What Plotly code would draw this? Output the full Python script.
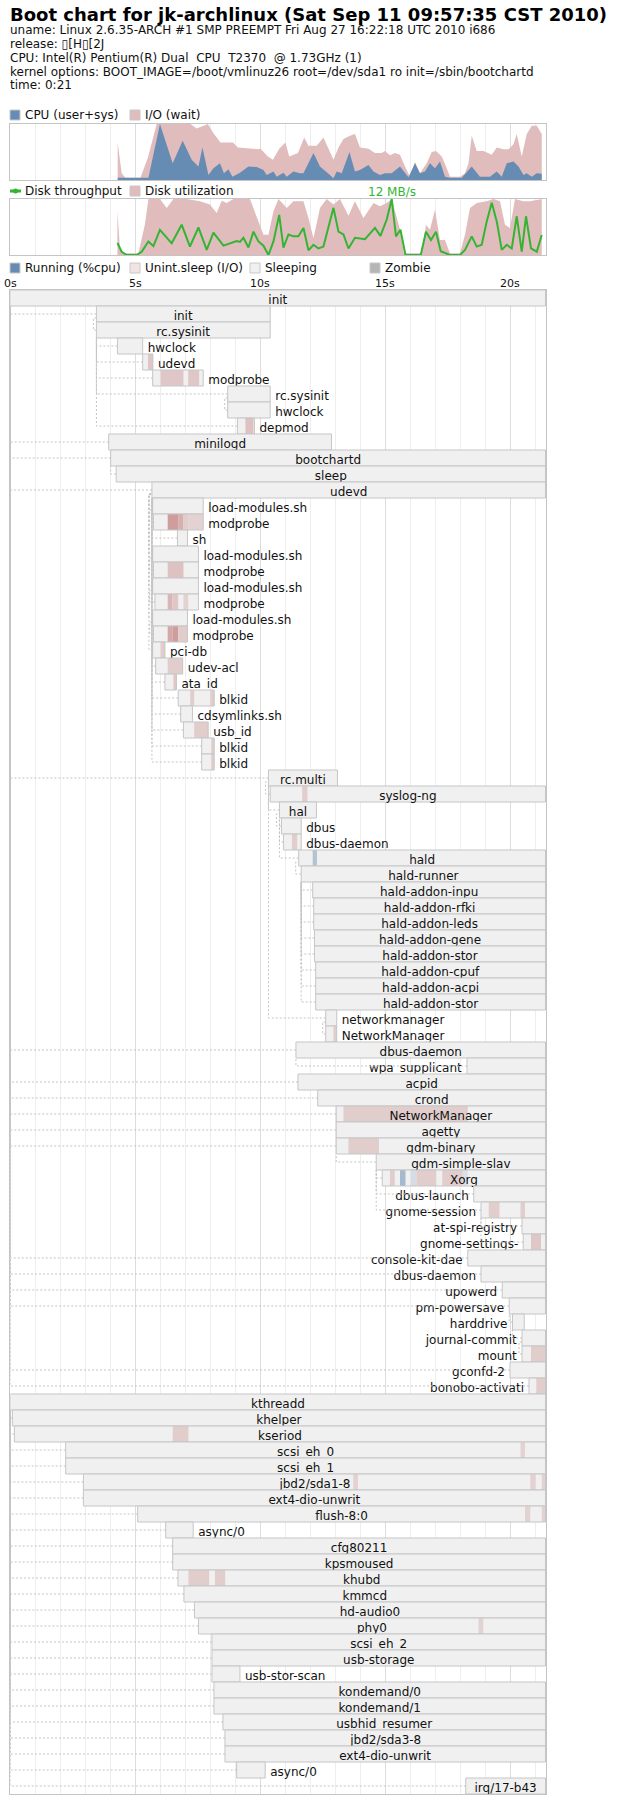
import plotly.graph_objects as go

# ---------------------------------------------------------------- data
title_text = "Boot chart for jk-archlinux (Sat Sep 11 09:57:35 CST 2010)"
header_lines = [
    "uname: Linux 2.6.35-ARCH #1 SMP PREEMPT Fri Aug 27 16:22:18 UTC 2010 i686",
    "release: \u25af[H\u25af[2J",
    "CPU: Intel(R) Pentium(R) Dual\u00a0 CPU\u00a0 T2370\u00a0 @ 1.73GHz (1)",
    "kernel options: BOOT_IMAGE=/boot/vmlinuz26 root=/dev/sda1 ro init=/sbin/bootchartd",
    "time: 0:21",
]

tick_seconds = [0, 5, 10, 15, 20]
tick_labels = ["0s", "5s", "10s", "15s", "20s"]
t_end = 21.42
last_sample = 21.4

cpu_t = [4.29, 5.20, 5.52, 5.98, 6.49, 6.89, 7.25, 7.52, 7.68, 7.92, 8.12, 8.38, 8.54, 8.72, 8.88,
         9.18, 9.52, 9.85, 10.12, 10.25, 10.52, 10.65, 10.92, 11.05, 11.32, 11.58, 11.72, 12.12, 12.38,
         12.78, 12.92, 13.05, 13.25, 13.56, 13.78, 13.98, 14.32, 14.52, 14.78, 14.98, 15.25, 15.58,
         15.92, 16.18, 16.38, 16.58, 16.78, 16.98, 17.18, 17.38, 17.58, 18.05, 18.45, 18.78, 19.18,
         19.45, 19.65, 19.85, 20.12, 20.32, 20.52, 20.65, 20.85, 21.05, 21.25]
cpu_v = [0.04, 0.04, 0.04, 1.00, 0.30, 0.70, 0.36, 0.24, 0.58, 0.09, 0.21, 0.30, 0.12, 0.19, 0.06,
         0.13, 0.24, 0.23, 0.18, 0.09, 0.15, 0.06, 0.13, 0.06, 0.15, 0.12, 0.12, 0.48, 0.24,
         0.09, 0.03, 0.15, 0.12, 0.50, 0.15, 0.18, 0.27, 0.15, 0.09, 0.12, 0.12, 0.24,
         0.05, 0.30, 0.12, 0.15, 0.30, 0.21, 0.33, 0.06, 0.04, 0.04, 0.24, 0.06, 0.06,
         0.15, 0.06, 0.30, 0.33, 0.24, 0.09, 0.12, 0.06, 0.12, 0.11]

io_t = [4.29, 4.45, 4.60, 5.20, 5.50, 5.85, 7.20, 7.45, 7.90, 8.10, 8.40, 8.90, 9.10, 9.90, 10.00,
        10.30, 10.50, 10.75, 11.00, 11.15, 11.50, 11.75, 11.92, 12.25, 12.52, 12.78, 12.92, 13.12,
        13.32, 13.58, 13.78, 13.98, 14.32, 14.58, 14.85, 14.98, 15.18, 15.38, 15.58, 15.78, 15.98,
        16.18, 16.38, 16.65, 16.85, 17.02, 17.25, 17.45, 17.58, 17.98, 18.18, 18.32, 18.45, 18.65,
        18.92, 19.25, 19.45, 19.72, 19.92, 20.12, 20.25, 20.45, 20.65, 20.85, 21.05, 21.25]
io_v = [0.67, 0.12, 0.04, 0.04, 0.40, 1.00, 1.00, 0.92, 1.00, 0.85, 0.67, 0.67, 0.58, 0.55, 0.56,
        0.42, 0.36, 0.56, 0.67, 0.42, 0.48, 0.76, 0.61, 0.61, 0.76, 0.48, 0.36, 0.58,
        0.73, 0.79, 0.82, 0.58, 0.56, 0.48, 0.48, 0.52, 0.44, 0.48, 0.45, 0.24, 0.06,
        0.32, 0.12, 0.30, 0.50, 0.52, 0.42, 0.21, 0.06, 0.06, 0.12, 0.30, 0.79, 0.52,
        0.52, 0.45, 0.58, 0.55, 0.55, 0.64, 0.82, 0.42, 0.82, 0.97, 0.97, 0.82]

util_t = [4.28, 4.38, 4.52, 5.12, 5.38, 5.52, 5.98, 6.25, 6.52, 7.05, 7.58, 7.98, 8.25, 8.45, 8.65,
          8.92, 9.58, 9.85, 10.12, 10.32, 10.52, 10.72, 11.05, 11.32, 11.72, 11.92, 12.12, 12.38,
          12.65, 12.92, 13.18, 13.52, 13.78, 14.12, 14.52, 14.78, 15.05, 15.25, 15.42, 15.60, 15.74,
          16.45, 16.62, 16.78, 16.98, 17.18, 17.38, 17.58, 17.98, 18.18, 18.38, 18.65, 19.05, 19.32,
          19.58, 19.78, 19.98, 20.18, 20.52, 20.78, 21.25]
util_v = [0.78, 0.12, 0.03, 0.03, 0.55, 1.00, 1.00, 0.84, 1.00, 1.00, 0.96, 0.90, 0.75, 0.97, 0.93,
          1.00, 1.00, 0.66, 0.36, 0.36, 0.78, 1.00, 0.84, 0.96, 0.96, 0.66, 0.30, 0.84,
          1.00, 0.90, 1.00, 0.70, 0.96, 0.66, 0.93, 0.87, 0.93, 1.00, 0.72, 0.42, 0.03,
          0.03, 0.54, 0.45, 0.81, 0.27, 0.27, 0.03, 0.03, 0.36, 0.84, 0.93, 0.96, 1.00,
          0.96, 0.54, 0.48, 1.00, 0.96, 0.96, 1.00]

tput_t = [4.28, 4.45, 4.65, 5.05, 5.25, 5.52, 5.72, 5.98, 6.45, 6.85, 7.18, 7.52, 7.85, 8.12, 8.52,
          8.78, 9.05, 9.18, 9.32, 9.52, 9.72, 9.92, 10.12, 10.32, 10.52, 10.75, 10.92, 11.12, 11.32,
          11.52, 11.72, 11.92, 12.12, 12.32, 12.52, 12.92, 13.12, 13.32, 13.52, 13.78, 14.18, 14.58,
          14.80, 15.05, 15.25, 15.42, 15.60, 15.80, 16.41, 16.62, 16.82, 17.02, 17.21, 17.58, 17.98,
          18.18, 18.45, 18.65, 18.85, 19.05, 19.25, 19.45, 19.65, 19.85, 20.05, 20.25, 20.45, 20.62,
          20.82, 21.05, 21.25]
tput_v = [2.6, 0.7, 0.0, 0.0, 0.7, 2.9, 1.9, 5.4, 2.5, 6.5, 1.8, 5.9, 1.1, 4.8, 2.0,
          2.5, 3.0, 2.8, 3.7, 1.6, 5.0, 2.9, 2.0, 0.0, 2.9, 8.6, 1.6, 4.4, 4.0,
          4.0, 5.8, 1.0, 2.2, 1.4, 1.8, 10.1, 5.0, 4.4, 1.4, 3.7, 3.4, 5.8,
          4.1, 7.6, 12.0, 4.0, 5.4, 0.0, 0.0, 5.0, 3.2, 5.0, 0.8, 0.0, 0.0,
          1.1, 4.0, 1.8, 2.2, 7.2, 11.2, 7.2, 1.1, 2.2, 1.4, 8.3, 0.7, 8.3,
          1.4, 0.7, 4.3]

L = last_sample
proc_names = ["init", "init", "rc.sysinit", "hwclock", "udevd", "modprobe", "rc.sysinit", "hwclock",
              "depmod", "minilogd", "bootchartd", "sleep", "udevd", "load-modules.sh", "modprobe", "sh",
              "load-modules.sh", "modprobe", "load-modules.sh", "modprobe", "load-modules.sh", "modprobe",
              "pci-db", "udev-acl", "ata_id", "blkid", "cdsymlinks.sh", "usb_id", "blkid", "blkid",
              "rc.multi", "syslog-ng", "hal", "dbus", "dbus-daemon", "hald", "hald-runner",
              "hald-addon-inpu", "hald-addon-rfki", "hald-addon-leds", "hald-addon-gene",
              "hald-addon-stor", "hald-addon-cpuf", "hald-addon-acpi", "hald-addon-stor",
              "networkmanager", "NetworkManager", "dbus-daemon", "wpa_supplicant", "acpid", "crond",
              "NetworkManager", "agetty", "gdm-binary", "gdm-simple-slav", "Xorg", "dbus-launch",
              "gnome-session", "at-spi-registry", "gnome-settings-", "console-kit-dae", "dbus-daemon",
              "upowerd", "pm-powersave", "harddrive", "journal-commit", "mount", "gconfd-2",
              "bonobo-activati", "kthreadd", "khelper", "kseriod", "scsi_eh_0", "scsi_eh_1",
              "jbd2/sda1-8", "ext4-dio-unwrit", "flush-8:0", "async/0", "cfg80211", "kpsmoused",
              "khubd", "kmmcd", "hd-audio0", "phy0", "scsi_eh_2", "usb-storage", "usb-stor-scan",
              "kondemand/0", "kondemand/1", "usbhid_resumer", "jbd2/sda3-8", "ext4-dio-unwrit",
              "async/0", "irq/17-b43"]
proc_start = [0.00, 3.44, 3.44, 4.28, 5.29, 5.69, 8.69, 8.69, 9.08, 3.93,
              4.01, 4.23, 5.66, 5.69, 5.72, 6.68, 5.69, 5.72, 5.69, 5.78,
              5.69, 5.72, 5.69, 5.81, 6.18, 6.71, 6.81, 6.92, 7.65, 7.65,
              10.32, 10.39, 10.76, 10.84, 10.92, 11.53, 11.63, 12.09, 12.13, 12.13,
              12.16, 12.16, 12.21, 12.21, 12.21, 12.61, 12.61, 11.42, 18.26, 11.50,
              12.29, 13.03, 13.03, 13.03, 14.63, 14.87, 18.53, 18.82, 20.46, 20.51,
              18.29, 18.82, 19.67, 19.95, 20.08, 20.46, 20.46, 19.98, 20.74, 0.00,
              0.08, 0.16, 2.21, 2.21, 2.92, 2.92, 5.09, 6.21, 6.49, 6.49,
              6.70, 6.94, 7.36, 7.52, 8.06, 8.06, 8.06, 8.14, 8.14, 8.50,
              8.58, 8.58, 9.05, 18.21]
proc_end = [L, 10.39, 10.39, 5.29, 5.70, 7.71, 10.39, 10.39, 9.76, 12.84,
            L, L, L, 7.71, 7.71, 7.08, 7.52, 7.52, 7.52, 7.52,
            7.08, 7.08, 6.18, 6.89, 6.64, 8.15, 7.28, 7.91, 8.15, 8.15,
            13.08, L, 12.24, 11.63, 11.63, L, L, L, L, L,
            L, L, L, L, L, 13.05, 13.05, L, L, L,
            L, L, L, L, L, L, L, L, L, L,
            L, L, L, L, 20.55, L, L, L, L, L,
            L, L, L, L, L, L, L, 7.31, L, L,
            L, L, L, L, L, L, 9.18, L, L, L,
            L, L, 10.19, L]
proc_parent = [-1, 0, 1, 2, 2, 2, 2, 6, 2, 0,
               0, 10, 0, 12, 13, 12, 12, 16, 12, 18,
               12, 20, 12, 12, 12, 12, 12, 12, 12, 12,
               0, 30, 30, 32, 32, 32, 35, 36, 36, 36,
               36, 36, 36, 36, 36, 30, 45, 0, 47, 0,
               0, 0, 0, 0, 53, 54, 54, 54, 57, 57,
               0, 0, 0, 0, 63, 64, 65, 0, 0, -1,
               69, 69, 69, 69, 69, 69, 69, 69, 69, 69,
               69, 69, 69, 69, 69, 69, 69, 69, 69, 69,
               69, 69, 69, 69]

seg_row = [4, 5, 5, 8, 14, 14, 14, 14, 17, 19, 19, 19, 21, 21, 21, 22, 23, 24, 25, 25,
           27, 28, 29, 31, 34, 35, 46, 51, 53, 55, 55, 55, 55, 55, 55, 57, 57, 59, 66, 68,
           71, 72, 74, 74, 74, 76, 76, 80, 80, 83]
seg_start = [5.50, 6.00, 7.11, 9.40, 6.29, 6.71, 6.92, 7.11, 6.29, 6.29, 6.48, 6.92, 6.29, 6.48,
             6.71, 6.00, 6.29, 6.52, 7.19, 7.99, 7.35, 8.03, 8.03, 11.67, 11.26, 12.09, 12.92,
             13.32, 13.52, 15.18, 15.58, 16.00, 16.24, 17.27, 18.09, 19.13, 20.40, 20.82, 20.82,
             21.03, 6.49, 20.40, 13.71, 20.79, 21.25, 20.58, 21.25, 7.12, 8.18, 18.72]
seg_end = [5.70, 6.92, 7.55, 9.72, 6.71, 6.92, 7.11, 7.71, 6.92, 6.48, 6.71, 7.11, 6.48, 6.71,
           7.08, 6.18, 6.89, 6.64, 7.35, 8.15, 7.91, 8.15, 8.15, 11.88, 11.47, 12.26, 13.05,
           18.29, 14.74, 15.37, 15.80, 16.24, 17.03, 18.09, 18.29, 19.56, 20.58, 21.22, 21.40,
           21.40, 7.12, 20.58, 13.90, 21.01, 21.40, 20.79, 21.40, 7.95, 8.59, 18.91]
seg_state = ["D"] * 25 + ["R"] + ["D"] * 4 + ["R", "R", "D", "D", "R"] + ["D"] * 15
seg_level = [0.35, 0.35, 0.35, 0.4, 0.7, 0.55, 0.3, 0.25, 0.4, 0.5, 0.35, 0.25, 0.6, 0.7,
             0.3, 0.3, 0.3, 0.35, 0.3, 0.3, 0.3, 0.3, 0.3, 0.3, 0.3, 0.45, 0.3,
             0.3, 0.3, 0.3, 0.55, 0.2, 0.3, 0.3, 0.15, 0.3, 0.3, 0.35, 0.3,
             0.3, 0.3, 0.25, 0.25, 0.25, 0.25, 0.25, 0.25, 0.3, 0.3, 0.25]

# ---------------------------------------------------------------- geometry / style
W, H = 620, 1804
FONT = "DejaVu Sans"
TEXT = "#111111"
X0, X1 = 10.4, 546.0
CPU_BOX = (124.0, 180.0)
DSK_BOX = (199.0, 255.0)
G_TOP = 290.0
ROW_H = 16.0
n_rows = len(proc_names)
G_BOT = G_TOP + ROW_H * n_rows
PPS = (X1 - X0) / t_end

CPU_RGB = (102, 140, 179)
IO_RGB = (194, 122, 122)
SLEEP_RGB = (240, 240, 240)
BORDER = "#c4c4c4"
PROC_BORDER = "#c6c6c6"
GRID = "#eeeeee"
GRID_BOLD = "#dddddd"
DEP_COLOR = "#c4c4c4"
TPUT_COLOR = "rgb(51,181,51)"
CLEAR = "rgba(0,0,0,0)"


def rgb(c):
    return "rgb(%d,%d,%d)" % tuple(int(round(v)) for v in c)


def mix(base, a, bg=SLEEP_RGB):
    return rgb([bg[k] + (base[k] - bg[k]) * a for k in range(3)])


IO_FILL = mix(IO_RGB, 0.5, (255, 255, 255))
CPU_FILL = rgb(CPU_RGB)


def pxx(x):
    return x / W


def pxy(y):
    return 1 - y / H


_cw = {"a": 1255, "b": 1300, "c": 1126, "d": 1300, "e": 1260, "f": 721, "g": 1300, "h": 1298,
       "i": 569, "j": 569, "k": 1186, "l": 569, "m": 1995, "n": 1298, "o": 1253, "p": 1300,
       "q": 1300, "r": 842, "s": 1067, "t": 803, "u": 1298, "v": 1212, "w": 1675, "x": 1212,
       "y": 1212, "z": 1075, " ": 651, "-": 739, ".": 651, "_": 1024, "/": 690, ":": 690}


def text_w(s, size=12):
    tot = 0
    for ch in s:
        if ch in _cw:
            tot += _cw[ch]
        elif ch.isdigit():
            tot += 1303
        elif ch.isupper():
            tot += 1450
        else:
            tot += 1200
    return tot / 2048.0 * size


fig = go.Figure()

# ---------------------------------------------------------------- CPU chart
fig.add_trace(go.Scatter(x=io_t, y=io_v, xaxis="x", yaxis="y", mode="lines", fill="tozeroy",
                         line=dict(width=0, color=IO_FILL), fillcolor=IO_FILL, hoverinfo="skip"))
fig.add_trace(go.Scatter(x=cpu_t, y=cpu_v, xaxis="x", yaxis="y", mode="lines", fill="tozeroy",
                         line=dict(width=0, color=CPU_FILL), fillcolor=CPU_FILL, hoverinfo="skip"))

# ---------------------------------------------------------------- disk chart
fig.add_trace(go.Scatter(x=util_t, y=util_v, xaxis="x2", yaxis="y2", mode="lines", fill="tozeroy",
                         line=dict(width=0, color=IO_FILL), fillcolor=IO_FILL, hoverinfo="skip"))
fig.add_trace(go.Scatter(x=tput_t, y=tput_v, xaxis="x2", yaxis="y4", mode="lines",
                         line=dict(width=2, color=TPUT_COLOR), hoverinfo="skip"))

# ---------------------------------------------------------------- process chart
# every row is drawn in order: fill, activity segments, border, label -- so a later row
# covers the descenders of the label above it, as the original renderer does.
LABEL_DY = 0.6
EDGE = 2.0 / PPS  # 2 px stub for outside labels (plus 3 px plotly text pad = 5 px)
by, bbase, blen, bcol, blcol, blw, btext, bpos = [], [], [], [], [], [], [], []


def add_bar(y, base, length, col, lcol=CLEAR, lw=0, text="", pos="none"):
    by.append(y)
    bbase.append(base)
    blen.append(length)
    bcol.append(col)
    blcol.append(lcol)
    blw.append(lw)
    btext.append(text)
    bpos.append(pos)


for i, name in enumerate(proc_names):
    s, e = proc_start[i], proc_end[i]
    add_bar(i + 0.5, s, e - s, rgb(SLEEP_RGB))
    for k, r in enumerate(seg_row):
        if r == i:
            c = mix(CPU_RGB if seg_state[k] == "R" else IO_RGB, seg_level[k])
            add_bar(i + 0.5, seg_start[k], seg_end[k] - seg_start[k], c)
    add_bar(i + 0.5, s, e - s, CLEAR, PROC_BORDER, 1)
    x_px, w_px = s * PPS, (e - s) * PPS
    lw = text_w(name)
    if lw + 10 <= w_px:
        add_bar(i + LABEL_DY, s, e - s, CLEAR, text=name, pos="inside")
    elif x_px + w_px + 5 + lw > (X1 - X0):
        add_bar(i + LABEL_DY, s, -EDGE, CLEAR, text=name, pos="outside")
    else:
        add_bar(i + LABEL_DY, e, EDGE, CLEAR, text=name, pos="outside")

fig.add_trace(go.Bar(y=by, x=blen, base=bbase, orientation="h", width=1.0,
                     xaxis="x3", yaxis="y3", text=btext, textposition=bpos,
                     insidetextanchor="middle", textangle=0, constraintext="none",
                     cliponaxis=False,
                     textfont=dict(family=FONT, size=12, color=TEXT),
                     marker=dict(color=bcol, line=dict(color=blcol, width=blw)),
                     hoverinfo="skip"))

# dependency lines
dep_x, dep_y = [], []
for i, p in enumerate(proc_parent):
    if p < 0:
        continue
    cx, cy = proc_start[i], i + 0.5
    ppx, pb = proc_start[p], p + 1
    if abs(ppx - cx) * PPS < 3:
        ox = 3 / PPS
        dep_x += [cx, ppx - ox, ppx - ox, ppx, None]
        dep_y += [cy, cy, pb - 0.25, pb - 0.25, None]
    else:
        dep_x += [cx, ppx, ppx, None]
        dep_y += [cy, cy, pb, None]
fig.add_trace(go.Scatter(x=dep_x, y=dep_y, xaxis="x3", yaxis="y3", mode="lines",
                         line=dict(color=DEP_COLOR, width=1, dash="2px,2px"), hoverinfo="skip"))


# ---------------------------------------------------------------- axes
def xax(anchor):
    return dict(range=[0, t_end], domain=[pxx(X0), pxx(X1)], anchor=anchor,
                showticklabels=False, ticks="", zeroline=False,
                showgrid=True, gridcolor=GRID_BOLD, gridwidth=1, tick0=0, dtick=5,
                minor=dict(tick0=0, dtick=1, showgrid=True, gridcolor=GRID, gridwidth=1),
                showline=True, mirror=True, linecolor=BORDER, linewidth=1, fixedrange=True)


def yax(anchor, top, bot, rng):
    return dict(range=rng, domain=[pxy(bot), pxy(top)], anchor=anchor, showticklabels=False,
                ticks="", zeroline=False, showgrid=False, showline=True, mirror=True,
                linecolor=BORDER, linewidth=1, fixedrange=True)


annotations = []
shapes = []

annotations.append(dict(text="<b>%s</b>" % title_text, x=pxx(8), y=pxy(14.5), xref="paper",
                        yref="paper", xanchor="left", yanchor="middle", showarrow=False,
                        font=dict(family=FONT, size=18, color="#000000")))
for k, line in enumerate(header_lines):
    annotations.append(dict(text=line, x=pxx(8), y=pxy(30.5 + 13.7 * k), xref="paper",
                            yref="paper", xanchor="left", yanchor="middle", showarrow=False,
                            font=dict(family=FONT, size=12, color=TEXT)))


def legend_box(x, yc, color, label):
    shapes.append(dict(type="rect", xref="paper", yref="paper", x0=pxx(x), x1=pxx(x + 10),
                       y0=pxy(yc + 5), y1=pxy(yc - 5), fillcolor=color,
                       line=dict(color="#c8c8c8", width=1)))
    annotations.append(dict(text=label, x=pxx(x + 13), y=pxy(yc), xref="paper", yref="paper",
                            xanchor="left", yanchor="middle", showarrow=False,
                            font=dict(family=FONT, size=12, color=TEXT)))


legend_box(10, 115, CPU_FILL, "CPU (user+sys)")
legend_box(130, 115, IO_FILL, "I/O (wait)")
shapes.append(dict(type="rect", xref="paper", yref="paper", x0=pxx(10), x1=pxx(21),
                   y0=pxy(192.5), y1=pxy(189.5), fillcolor=TPUT_COLOR, line=dict(width=0)))
shapes.append(dict(type="circle", xref="paper", yref="paper", x0=pxx(13), x1=pxx(18),
                   y0=pxy(193.5), y1=pxy(188.5), fillcolor=TPUT_COLOR, line=dict(width=0)))
annotations.append(dict(text="Disk throughput", x=pxx(23), y=pxy(191), xref="paper", yref="paper",
                        xanchor="left", yanchor="middle", showarrow=False,
                        font=dict(family=FONT, size=12, color=TEXT)))
legend_box(130, 191, IO_FILL, "Disk utilization")
legend_box(10, 268, CPU_FILL, "Running (%cpu)")
legend_box(130, 268, mix(IO_RGB, 0.2, (255, 255, 255)), "Unint.sleep (I/O)")
legend_box(250, 268, rgb(SLEEP_RGB), "Sleeping")
legend_box(370, 268, "rgb(181,181,181)", "Zombie")

i_max = max(range(len(tput_v)), key=lambda k: tput_v[k])
annotations.append(dict(text="%d MB/s" % round(tput_v[i_max]), x=tput_t[i_max], xref="x2",
                        y=pxy(192), yref="paper", xanchor="center", yanchor="middle",
                        showarrow=False, font=dict(family=FONT, size=12, color=TPUT_COLOR)))

for tv, tl in zip(tick_seconds, tick_labels):
    annotations.append(dict(text=tl, x=tv, xref="x3", y=pxy(283), yref="paper",
                            xanchor="center", yanchor="middle", showarrow=False,
                            font=dict(family=FONT, size=11, color=TEXT)))

fig.update_layout(
    width=W, height=H, margin=dict(l=0, r=0, t=0, b=0, pad=0),
    paper_bgcolor="white", plot_bgcolor="white", showlegend=False, barmode="overlay",
    xaxis=xax("y"), yaxis=yax("x", CPU_BOX[0], CPU_BOX[1], [0, 1]),
    xaxis2=xax("y2"), yaxis2=yax("x2", DSK_BOX[0], DSK_BOX[1], [0, 1]),
    yaxis4=dict(overlaying="y2", anchor="x2", range=[0, max(tput_v)], visible=False,
                fixedrange=True),
    xaxis3=xax("y3"), yaxis3=yax("x3", G_TOP, G_BOT, [n_rows, 0]),
    annotations=annotations, shapes=shapes,
)

fig.write_html("out.html", config={"displayModeBar": False},
               post_script="document.body.style.margin='0px';")
